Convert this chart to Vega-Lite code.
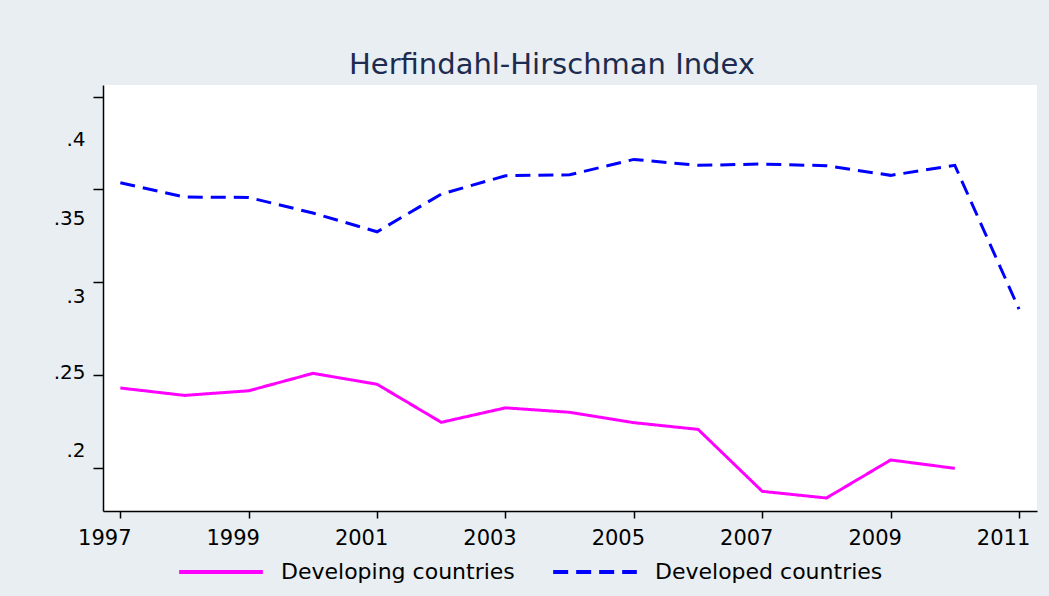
{
  "$schema": "https://vega.github.io/schema/vega-lite/v6.json",
  "width": 934,
  "height": 426,
  "autosize": {"type": "none"},
  "padding": {"left": 103, "top": 85, "right": 12, "bottom": 85},
  "background": "#e8eef1",
  "config": {"view": {"fill": "white", "stroke": null}},
  "title": {"text": "Herfindahl-Hirschman Index", "font": "DejaVu Sans", "fontSize": 29, "fontWeight": "normal", "color": "#1c2b4f", "anchor": "middle", "frame": "group", "dx": -18, "offset": 5},
  "data": {"values": [
    {"year": 1997, "group": "Developing countries", "hhi": 0.2430},
    {"year": 1998, "group": "Developing countries", "hhi": 0.2390},
    {"year": 1999, "group": "Developing countries", "hhi": 0.2415},
    {"year": 2000, "group": "Developing countries", "hhi": 0.2509},
    {"year": 2001, "group": "Developing countries", "hhi": 0.2450},
    {"year": 2002, "group": "Developing countries", "hhi": 0.2245},
    {"year": 2003, "group": "Developing countries", "hhi": 0.2323},
    {"year": 2004, "group": "Developing countries", "hhi": 0.2299},
    {"year": 2005, "group": "Developing countries", "hhi": 0.2243},
    {"year": 2006, "group": "Developing countries", "hhi": 0.2207},
    {"year": 2007, "group": "Developing countries", "hhi": 0.1873},
    {"year": 2008, "group": "Developing countries", "hhi": 0.1837},
    {"year": 2009, "group": "Developing countries", "hhi": 0.2042},
    {"year": 2010, "group": "Developing countries", "hhi": 0.1997},
    {"year": 1997, "group": "Developed countries", "hhi": 0.3536},
    {"year": 1998, "group": "Developed countries", "hhi": 0.3459},
    {"year": 1999, "group": "Developed countries", "hhi": 0.3457},
    {"year": 2000, "group": "Developed countries", "hhi": 0.3373},
    {"year": 2001, "group": "Developed countries", "hhi": 0.3272},
    {"year": 2002, "group": "Developed countries", "hhi": 0.3475},
    {"year": 2003, "group": "Developed countries", "hhi": 0.3574},
    {"year": 2004, "group": "Developed countries", "hhi": 0.3579},
    {"year": 2005, "group": "Developed countries", "hhi": 0.3662},
    {"year": 2006, "group": "Developed countries", "hhi": 0.3630},
    {"year": 2007, "group": "Developed countries", "hhi": 0.3637},
    {"year": 2008, "group": "Developed countries", "hhi": 0.3628},
    {"year": 2009, "group": "Developed countries", "hhi": 0.3576},
    {"year": 2010, "group": "Developed countries", "hhi": 0.3630},
    {"year": 2011, "group": "Developed countries", "hhi": 0.2855}
  ]},
  "mark": {"type": "line", "strokeWidth": 3},
  "encoding": {
    "x": {
      "field": "year", "type": "quantitative",
      "scale": {"domain": [1996.73, 2011.28], "nice": false, "zero": false},
      "axis": {"title": null, "grid": false, "values": [1997, 1999, 2001, 2003, 2005, 2007, 2009, 2011], "format": "d",
        "domainColor": "#000", "domainWidth": 1.5, "tickColor": "#000", "tickWidth": 1.5, "tickSize": 7,
        "labelFont": "DejaVu Sans", "labelFontSize": 21, "labelColor": "#000", "labelPadding": 9, "labelOffset": -16, "labelFlush": false, "labelOverlap": false}
    },
    "y": {
      "field": "hhi", "type": "quantitative",
      "scale": {"domain": [0.1767, 0.4063], "nice": false, "zero": false},
      "axis": {"title": null, "grid": false, "values": [0.2, 0.25, 0.3, 0.35, 0.4],
        "labelExpr": "replace(format(datum.value, '.2~f'), '0.', '.')",
        "domainColor": "#000", "domainWidth": 1.5, "tickColor": "#000", "tickWidth": 1.5, "tickSize": 10,
        "labelFont": "DejaVu Sans", "labelFontSize": 20, "labelColor": "#000", "labelPadding": 8, "labelBaseline": "middle", "labelFlush": false, "labelOverlap": false,
        "labelOffset": {"condition": [
          {"test": "datum.value > 0.39", "value": 43},
          {"test": "datum.value > 0.34", "value": 29},
          {"test": "datum.value > 0.29", "value": 14},
          {"test": "datum.value > 0.24", "value": -2}
        ], "value": -17}}
    },
    "color": {
      "field": "group", "type": "nominal",
      "scale": {"domain": ["Developing countries", "Developed countries"], "range": ["#ff00ff", "#0000ff"]},
      "legend": {"orient": "none", "legendX": 74, "legendY": 443, "direction": "horizontal", "title": null,
        "symbolType": "stroke", "symbolSize": 7000, "symbolStrokeWidth": 4,
        "labelFont": "DejaVu Sans", "labelFontSize": 22, "labelColor": "#000", "labelOffset": 16, "columnPadding": 30, "labelLimit": 500,
        "encode": {"symbols": {"update": {
          "stroke": {"signal": "datum.value == 'Developed countries' ? '#1a2f6b' : '#ff00ff'"},
          "strokeDash": {"signal": "datum.value == 'Developed countries' ? [16, 11] : [1, 0]"}}}}}
    },
    "strokeDash": {
      "field": "group", "type": "nominal",
      "scale": {"domain": ["Developing countries", "Developed countries"], "range": [[1, 0], [15, 8]]},
      "legend": null
    }
  }
}
